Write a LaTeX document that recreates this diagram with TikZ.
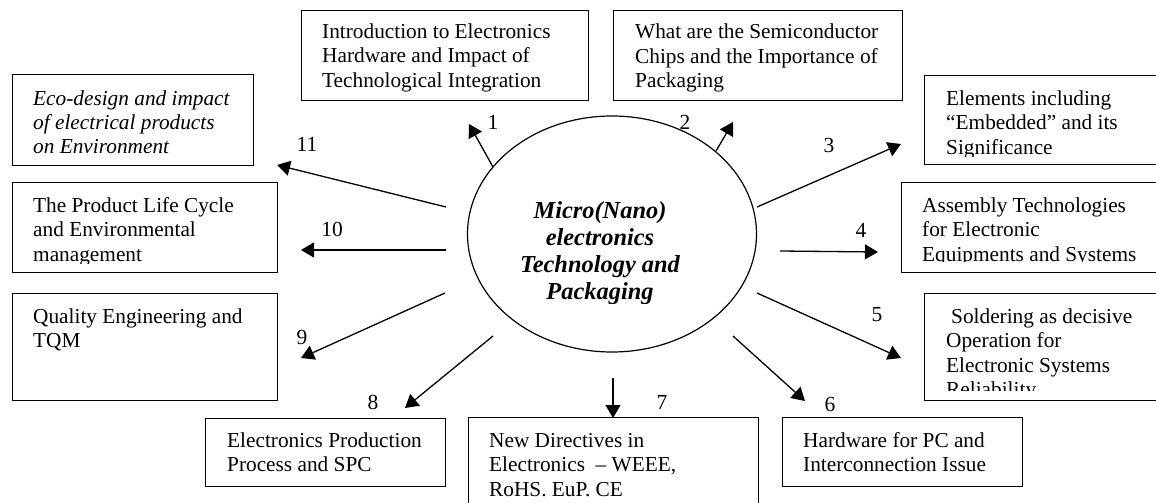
\documentclass[tikz,border=0pt]{standalone}
\usepackage{fontspec}
\setmainfont{Liberation Serif}
\usetikzlibrary{arrows.meta,shapes.geometric}
\begin{document}
\begin{tikzpicture}[x=1pt,y=-1pt,
  topicbox/.style={draw, line width=1.4pt, inner sep=0pt, anchor=north west},
  boxtext/.style={inner sep=0pt, anchor=base west, align=left, font=\fontsize{21.3}{24.5}\selectfont},
  numlabel/.style={inner sep=0pt, font=\fontsize{21.5}{24}\selectfont},
  arr/.style={line width=1.3pt, -{Triangle[length=13pt,width=15pt]}},
  hub/.style={draw, ellipse, line width=1.2pt, inner sep=0pt}]
\clip (0,0) rectangle (1156,503);
\fill[white] (0,0) rectangle (1156,503);

% central ellipse
\node[hub, minimum width=289pt, minimum height=236pt] (c) at (612,234) {};
\begin{scope}
  \clip (470,150) rectangle (756,303);
  \node[inner sep=0pt, anchor=base, align=center,
        font=\fontsize{24.4}{27}\selectfont\bfseries\itshape] (ct) at (600,299)
    {Micro(Nano)\\electronics\\Technology and\\Packaging};
\end{scope}

% boxes
\node[topicbox, minimum width=287pt, minimum height=90pt] (b1) at (301,10) {};
\node[topicbox, minimum width=289pt, minimum height=90pt] (b2) at (613,10) {};
\node[topicbox, minimum width=245pt, minimum height=89pt] (b3) at (924,75) {};
\node[topicbox, minimum width=265pt, minimum height=90pt] (b4) at (901,182) {};
\node[topicbox, minimum width=245pt, minimum height=107pt] (b5) at (924,293) {};
\node[topicbox, minimum width=240pt, minimum height=69pt] (b6) at (782,417) {};
\node[topicbox, minimum width=290pt, minimum height=100pt] (b7) at (468,417) {};
\node[topicbox, minimum width=240pt, minimum height=68pt] (b8) at (205,418) {};
\node[topicbox, minimum width=265pt, minimum height=107pt] (b9) at (12,293) {};
\node[topicbox, minimum width=265pt, minimum height=90pt] (b10) at (12,182) {};
\node[topicbox, minimum width=241pt, minimum height=91pt] (b11) at (12,74) {};

% box texts (anchored at the last line's baseline, clipped above the bottom edge)
\begin{scope}
  \clip (b1.north west) rectangle ([yshift=10pt]b1.south east);
  \node[boxtext] (t1) at ([xshift=21pt,yshift=-77pt]b1.north west)
    {Introduction to Electronics\\Hardware and Impact of\\Technological Integration};
\end{scope}
\begin{scope}
  \clip (b2.north west) rectangle ([yshift=9pt]b2.south east);
  \node[boxtext] (t2) at ([xshift=22pt,yshift=-78pt]b2.north west)
    {What are the Semiconductor\\Chips and the Importance of\\Packaging};
\end{scope}
\begin{scope}
  \clip (b3.north west) rectangle ([yshift=9pt]b3.south east);
  \node[boxtext] (t3) at ([xshift=22pt,yshift=-79pt]b3.north west)
    {Elements including\\“Embedded” and its\\Significance};
\end{scope}
\begin{scope}
  \clip (b4.north west) rectangle ([yshift=12pt]b4.south east);
  \node[boxtext] (t4) at ([xshift=21pt,yshift=-79pt]b4.north west)
    {Assembly Technologies\\for Electronic\\Equipments and Systems};
\end{scope}
\begin{scope}
  \clip (b5.north west) rectangle ([yshift=11pt]b5.south east);
  \node[boxtext] (t5) at ([xshift=22pt,yshift=-103.5pt]b5.north west)
    {\hspace{5pt}Soldering as decisive\\Operation for\\Electronic Systems\\Reliability};
\end{scope}
\begin{scope}
  \clip (b6.north west) rectangle ([yshift=5pt]b6.south east);
  \node[boxtext] (t6) at ([xshift=21pt,yshift=-54.5pt]b6.north west)
    {Hardware for PC and\\Interconnection Issue};
\end{scope}
\begin{scope}
  \clip (b7.north west) rectangle (b7.south east);
  \node[boxtext] (t7) at ([xshift=21pt,yshift=-79pt]b7.north west)
    {New Directives in\\Electronics\ \ – WEEE,\\RoHS. EuP. CE};
\end{scope}
\begin{scope}
  \clip (b8.north west) rectangle ([yshift=5pt]b8.south east);
  \node[boxtext] (t8) at ([xshift=22pt,yshift=-53.5pt]b8.north west)
    {Electronics Production\\Process and SPC};
\end{scope}
\begin{scope}
  \clip (b9.north west) rectangle ([yshift=10pt]b9.south east);
  \node[boxtext] (t9) at ([xshift=21pt,yshift=-54.5pt]b9.north west)
    {Quality Engineering and\\TQM};
\end{scope}
\begin{scope}
  \clip (b10.north west) rectangle ([yshift=10pt]b10.south east);
  \node[boxtext] (t10) at ([xshift=21pt,yshift=-79pt]b10.north west)
    {The Product Life Cycle\\and Environmental\\management};
\end{scope}
\begin{scope}
  \clip (b11.north west) rectangle ([yshift=9pt]b11.south east);
  \node[boxtext, font=\fontsize{21.3}{24}\selectfont\itshape] (t11) at ([xshift=21pt,yshift=-79pt]b11.north west)
    {Eco-design and impact\\of electrical products\\on Environment};
\end{scope}

% connector end points
\coordinate (s1) at (493,167);  \coordinate (e1) at (469,124);
\coordinate (s2) at (716,151);  \coordinate (e2) at (733,122);
\coordinate (s3) at (757,207);  \coordinate (e3) at (901,144);
\coordinate (s4) at (780,251);  \coordinate (e4) at (878,252);
\coordinate (s5) at (757,293);  \coordinate (e5) at (901,358);
\coordinate (s6) at (733,336);  \coordinate (e6) at (805,401);
\coordinate (s7) at (613,378);  \coordinate (e7) at (613,418);
\coordinate (s8) at (493,336);  \coordinate (e8) at (405,408);
\coordinate (s9) at (445,293);  \coordinate (e9) at (301,358);
\coordinate (s10) at (446,250); \coordinate (e10) at (301,250);
\coordinate (s11) at (446,207); \coordinate (e11) at (277,165);

\foreach \i in {1,...,11} { \draw[arr] (s\i) -- (e\i); }

% numbers
\node[numlabel] (n1) at (493,122) {1};
\node[numlabel] (n2) at (685,122) {2};
\node[numlabel] (n3) at (829,145) {3};
\node[numlabel] (n4) at (861,230) {4};
\node[numlabel] (n5) at (877,315) {5};
\node[numlabel] (n6) at (830,404) {6};
\node[numlabel] (n7) at (662,402) {7};
\node[numlabel] (n8) at (373,402) {8};
\node[numlabel] (n9) at (302,337) {9};
\node[numlabel] (n10) at (332,229) {10};
\node[numlabel] (n11) at (307,144) {11};
\end{tikzpicture}
\end{document}
